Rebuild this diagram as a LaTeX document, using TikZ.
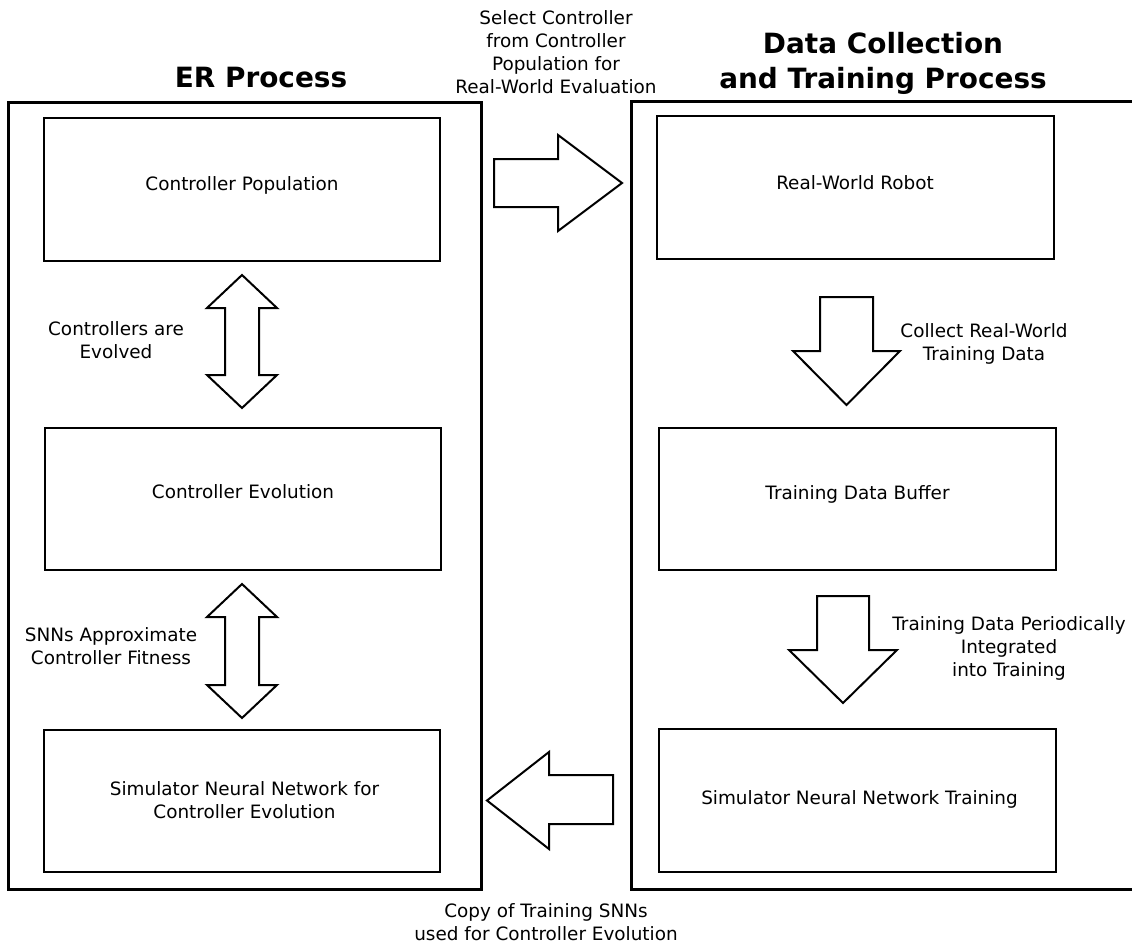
\documentclass[tikz,border=0pt]{standalone}
\usepackage{fontspec}
\setmainfont{DejaVu Sans}
\begin{document}
\begin{tikzpicture}[x=1pt,y=-1pt,
  frame/.style={line width=3pt, line join=miter},
  ibox/.style={draw, line width=1.8pt, inner sep=0pt, outer sep=0pt},
  blk/.style={draw, line width=2pt, line join=miter, fill=white},
  lbl/.style={font=\fontsize{18.4}{23}\selectfont, align=center, inner sep=0pt},
  ttl/.style={font=\fontsize{27.9}{35}\selectfont\bfseries, align=center, inner sep=0pt}]
\useasboundingbox (0,0) rectangle (1132,947);

% outer frames
\node[draw, line width=3pt, inner sep=0pt, outer sep=0pt, minimum width=473pt, minimum height=786pt] (er) at (244.5,496) {};
\draw[frame] (1140,102) coordinate (rtop) -- (631,102) -- (631,889) -- (1140,889) coordinate (rbot);

% titles
\node[ttl] (ert) at (261,77.8) {ER Process};
\node[ttl] (dct) at (883,63.2) {Data Collection\\and Training Process};

% inner boxes
\node[ibox, minimum width=396pt, minimum height=143pt] (cp) at (242,189.5) {};
\node[ibox, minimum width=396pt, minimum height=142pt] (ce) at (243,499) {};
\node[ibox, minimum width=396pt, minimum height=142pt] (sn) at (242,801) {};
\node[ibox, minimum width=397pt, minimum height=143pt] (rw) at (855.5,187.5) {};
\node[ibox, minimum width=397pt, minimum height=142pt] (tb) at (857.5,499) {};
\node[ibox, minimum width=397pt, minimum height=143pt] (st) at (857.5,800.5) {};

% box texts
\node[lbl] (cpt) at (242,185) {Controller Population};
\node[lbl] (cet) at (243,492) {Controller Evolution};
\node[lbl] (snt) at (244.5,800.5) {Simulator Neural Network for\\Controller Evolution};
\node[lbl] (rwt) at (855,183) {Real-World Robot};
\node[lbl] (tbt) at (857.5,494) {Training Data Buffer};
\node[lbl] (stt) at (859.5,799) {Simulator Neural Network Training};

% arrow labels
\node[lbl] (sel) at (556,52.5) {Select Controller\\from Controller\\Population for\\Real-World Evaluation};
\node[lbl] (evo) at (116,340.5) {Controllers are\\Evolved};
\node[lbl] (fit) at (111,646.5) {SNNs Approximate\\Controller Fitness};
\node[lbl] (col) at (984,343.7) {Collect Real-World\\Training Data};
\node[lbl] (per) at (1009,648.7) {Training Data Periodically\\Integrated\\into Training};
\node[lbl] (cpy) at (546,922.5) {Copy of Training SNNs\\used for Controller Evolution};

% block arrows
% right arrow (select)
\draw[blk] (494,159) -- (558,159) -- (558,135) -- (622,183) -- (558,231) -- (558,207) -- (494,207) -- cycle;
% double arrow 1
\draw[blk] (242,275) -- (277,308) -- (259,308) -- (259,375) -- (277,375) -- (242,408)
  -- (207,375) -- (225,375) -- (225,308) -- (207,308) -- cycle;
% double arrow 2
\draw[blk] (242,584) -- (277,617) -- (259,617) -- (259,685) -- (277,685) -- (242,718)
  -- (207,685) -- (225,685) -- (225,617) -- (207,617) -- cycle;
% down arrow 1
\draw[blk] (820,297) -- (873,297) -- (873,351) -- (900,351) -- (846.5,405) -- (793,351) -- (820,351) -- cycle;
% down arrow 2
\draw[blk] (817,596) -- (869,596) -- (869,650) -- (897,650) -- (843,703) -- (789,650) -- (817,650) -- cycle;
% left arrow
\draw[blk] (613,775) -- (549,775) -- (549,752) -- (487,800.5) -- (549,849) -- (549,824) -- (613,824) -- cycle;
\end{tikzpicture}
\end{document}
